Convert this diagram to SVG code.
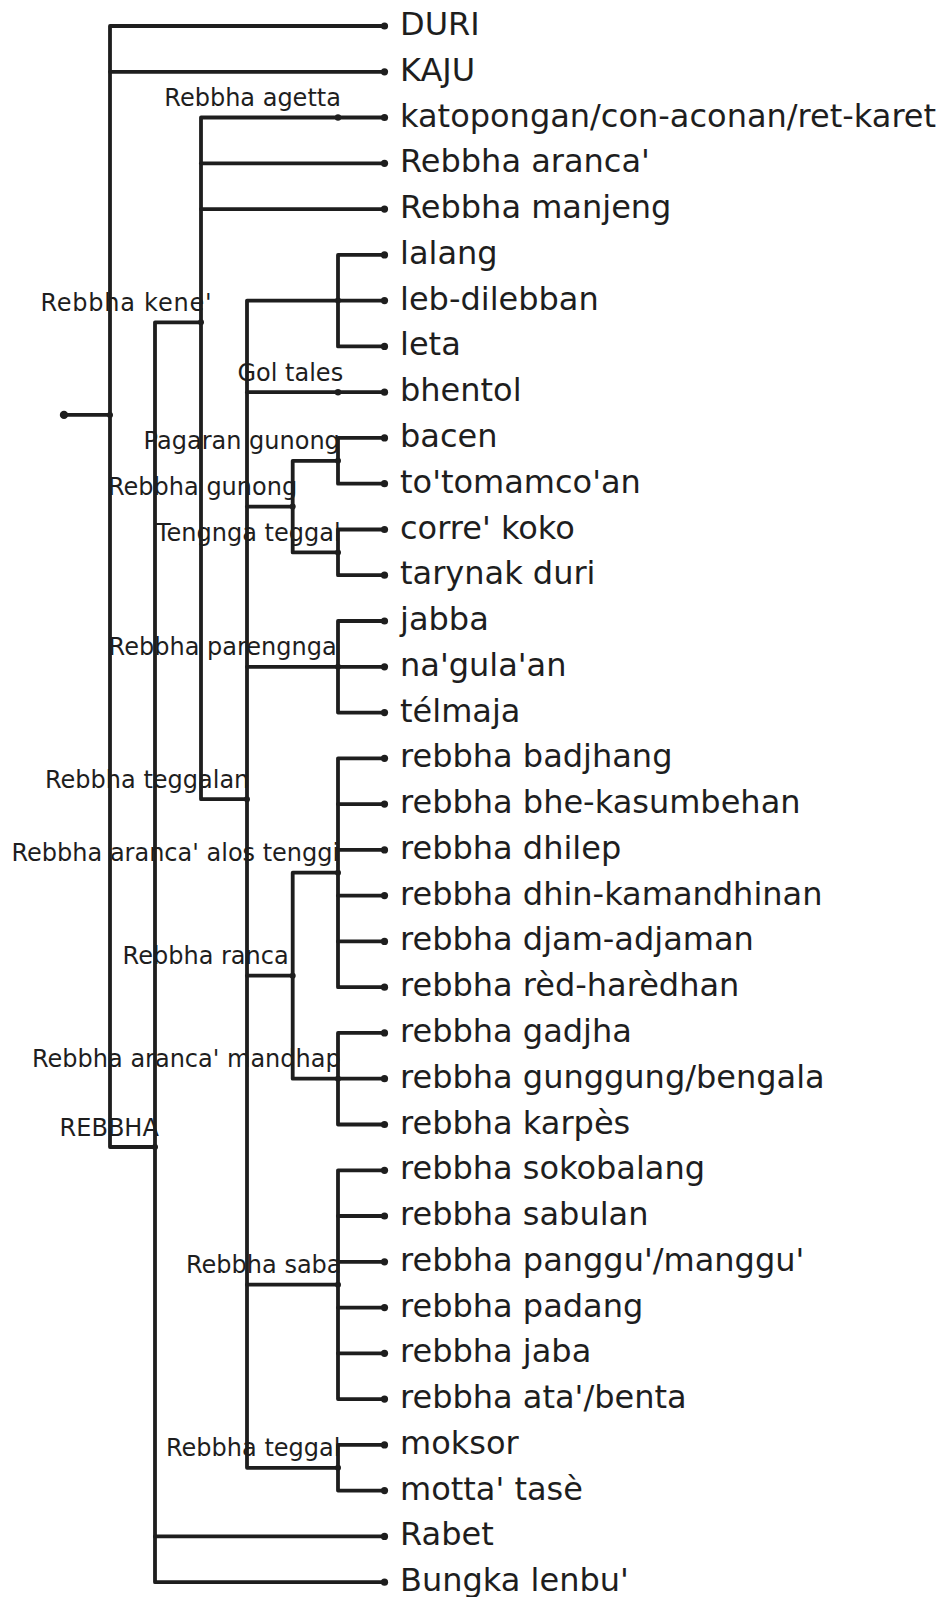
<svg xmlns="http://www.w3.org/2000/svg" width="944" height="1597" viewBox="0 0 944 1597">
<style>
.leaf{font-family:"DejaVu Sans",sans-serif;font-size:32px;fill:#1e1e1e}
.lbl{font-family:"DejaVu Sans",sans-serif;font-size:24px;fill:#1e1e1e}
.dot{fill:#1e1e1e}
#connectors path{fill:none;stroke:#1e1e1e;stroke-width:3.8;stroke-linecap:round;stroke-linejoin:round}
</style>
<rect width="944" height="1597" fill="#fff"/>
<g id="nodes">
<g id="n-root"><circle class="dot" cx="64" cy="414.9" r="4.2"/><circle class="dot" cx="110" cy="414.9" r="3"/></g>
<g id="n-REBBHA"><text class="lbl" x="59.6" y="1135.5">REBBHA</text><circle class="dot" cx="155" cy="1147" r="3"/></g>
<g id="n-kene"><text class="lbl" x="40.5" y="310.8" textLength="171" lengthAdjust="spacing">Rebbha kene'</text><circle class="dot" cx="201" cy="322.3" r="3"/></g>
<g id="n-agetta"><text class="lbl" x="164.3" y="106">Rebbha agetta</text><circle class="dot" cx="338" cy="117.5" r="3.2"/></g>
<g id="n-teggalan"><text class="lbl" x="45" y="787.7">Rebbha teggalan</text><circle class="dot" cx="247" cy="799.2" r="3"/></g>
<g id="n-g1"><circle class="dot" cx="338" cy="300.6" r="3"/></g>
<g id="n-gol"><text class="lbl" x="237.5" y="380.7">Gol tales</text><circle class="dot" cx="338" cy="392.2" r="3.2"/></g>
<g id="n-gunong"><text class="lbl" x="108" y="495.1">Rebbha gunong</text><circle class="dot" cx="292.7" cy="506.6" r="3"/></g>
<g id="n-pagaran"><text class="lbl" x="143.6" y="449.3">Pagaran gunong</text><circle class="dot" cx="338" cy="460.8" r="3"/></g>
<g id="n-tengnga"><text class="lbl" x="156" y="540.9">Tengnga teggal</text><circle class="dot" cx="338" cy="552.4" r="3"/></g>
<g id="n-parengnga"><text class="lbl" x="108.6" y="655.3">Rebbha parengnga</text><circle class="dot" cx="338" cy="666.8" r="3"/></g>
<g id="n-ranca"><text class="lbl" x="122.6" y="964.2">Rebbha ranca</text><circle class="dot" cx="292.7" cy="975.7" r="3"/></g>
<g id="n-alos"><text class="lbl" x="11.5" y="861.2">Rebbha aranca' alos tenggi</text><circle class="dot" cx="338" cy="872.7" r="3"/></g>
<g id="n-mandhap"><text class="lbl" x="32" y="1067.2">Rebbha aranca' mandhap</text><circle class="dot" cx="338" cy="1078.7" r="3"/></g>
<g id="n-saba"><text class="lbl" x="186" y="1273.2">Rebbha saba</text><circle class="dot" cx="338" cy="1284.7" r="3"/></g>
<g id="n-teggal"><text class="lbl" x="166" y="1456.3">Rebbha teggal</text><circle class="dot" cx="338" cy="1467.8" r="3"/></g>
<g id="leaf-0"><circle class="dot" cx="384.5" cy="26" r="3.6"/><text class="leaf" x="400" y="35">DURI</text></g>
<g id="leaf-1"><circle class="dot" cx="384.5" cy="71.8" r="3.6"/><text class="leaf" x="400" y="80.8">KAJU</text></g>
<g id="leaf-2"><circle class="dot" cx="384.5" cy="117.5" r="3.6"/><text class="leaf" x="400" y="126.5">katopongan/con-aconan/ret-karet</text></g>
<g id="leaf-3"><circle class="dot" cx="384.5" cy="163.3" r="3.6"/><text class="leaf" x="400" y="172.3">Rebbha aranca'</text></g>
<g id="leaf-4"><circle class="dot" cx="384.5" cy="209.1" r="3.6"/><text class="leaf" x="400" y="218.1">Rebbha manjeng</text></g>
<g id="leaf-5"><circle class="dot" cx="384.5" cy="254.9" r="3.6"/><text class="leaf" x="400" y="263.9">lalang</text></g>
<g id="leaf-6"><circle class="dot" cx="384.5" cy="300.6" r="3.6"/><text class="leaf" x="400" y="309.6">leb-dilebban</text></g>
<g id="leaf-7"><circle class="dot" cx="384.5" cy="346.4" r="3.6"/><text class="leaf" x="400" y="355.4">leta</text></g>
<g id="leaf-8"><circle class="dot" cx="384.5" cy="392.2" r="3.6"/><text class="leaf" x="400" y="401.2">bhentol</text></g>
<g id="leaf-9"><circle class="dot" cx="384.5" cy="437.9" r="3.6"/><text class="leaf" x="400" y="446.9">bacen</text></g>
<g id="leaf-10"><circle class="dot" cx="384.5" cy="483.7" r="3.6"/><text class="leaf" x="400" y="492.7">to'tomamco'an</text></g>
<g id="leaf-11"><circle class="dot" cx="384.5" cy="529.5" r="3.6"/><text class="leaf" x="400" y="538.5">corre' koko</text></g>
<g id="leaf-12"><circle class="dot" cx="384.5" cy="575.2" r="3.6"/><text class="leaf" x="400" y="584.2">tarynak duri</text></g>
<g id="leaf-13"><circle class="dot" cx="384.5" cy="621" r="3.6"/><text class="leaf" x="400" y="630">jabba</text></g>
<g id="leaf-14"><circle class="dot" cx="384.5" cy="666.8" r="3.6"/><text class="leaf" x="400" y="675.8">na'gula'an</text></g>
<g id="leaf-15"><circle class="dot" cx="384.5" cy="712.6" r="3.6"/><text class="leaf" x="400" y="721.6">télmaja</text></g>
<g id="leaf-16"><circle class="dot" cx="384.5" cy="758.3" r="3.6"/><text class="leaf" x="400" y="767.3">rebbha badjhang</text></g>
<g id="leaf-17"><circle class="dot" cx="384.5" cy="804.1" r="3.6"/><text class="leaf" x="400" y="813.1">rebbha bhe-kasumbehan</text></g>
<g id="leaf-18"><circle class="dot" cx="384.5" cy="849.9" r="3.6"/><text class="leaf" x="400" y="858.9">rebbha dhilep</text></g>
<g id="leaf-19"><circle class="dot" cx="384.5" cy="895.6" r="3.6"/><text class="leaf" x="400" y="904.6">rebbha dhin-kamandhinan</text></g>
<g id="leaf-20"><circle class="dot" cx="384.5" cy="941.4" r="3.6"/><text class="leaf" x="400" y="950.4">rebbha djam-adjaman</text></g>
<g id="leaf-21"><circle class="dot" cx="384.5" cy="987.2" r="3.6"/><text class="leaf" x="400" y="996.2">rebbha rèd-harèdhan</text></g>
<g id="leaf-22"><circle class="dot" cx="384.5" cy="1032.9" r="3.6"/><text class="leaf" x="400" y="1041.9">rebbha gadjha</text></g>
<g id="leaf-23"><circle class="dot" cx="384.5" cy="1078.7" r="3.6"/><text class="leaf" x="400" y="1087.7">rebbha gunggung/bengala</text></g>
<g id="leaf-24"><circle class="dot" cx="384.5" cy="1124.5" r="3.6"/><text class="leaf" x="400" y="1133.5">rebbha karpès</text></g>
<g id="leaf-25"><circle class="dot" cx="384.5" cy="1170.3" r="3.6"/><text class="leaf" x="400" y="1179.3">rebbha sokobalang</text></g>
<g id="leaf-26"><circle class="dot" cx="384.5" cy="1216" r="3.6"/><text class="leaf" x="400" y="1225">rebbha sabulan</text></g>
<g id="leaf-27"><circle class="dot" cx="384.5" cy="1261.8" r="3.6"/><text class="leaf" x="400" y="1270.8">rebbha panggu'/manggu'</text></g>
<g id="leaf-28"><circle class="dot" cx="384.5" cy="1307.6" r="3.6"/><text class="leaf" x="400" y="1316.6">rebbha padang</text></g>
<g id="leaf-29"><circle class="dot" cx="384.5" cy="1353.3" r="3.6"/><text class="leaf" x="400" y="1362.3">rebbha jaba</text></g>
<g id="leaf-30"><circle class="dot" cx="384.5" cy="1399.1" r="3.6"/><text class="leaf" x="400" y="1408.1">rebbha ata'/benta</text></g>
<g id="leaf-31"><circle class="dot" cx="384.5" cy="1444.9" r="3.6"/><text class="leaf" x="400" y="1453.9">moksor</text></g>
<g id="leaf-32"><circle class="dot" cx="384.5" cy="1490.6" r="3.6"/><text class="leaf" x="400" y="1499.6">motta' tasè</text></g>
<g id="leaf-33"><circle class="dot" cx="384.5" cy="1536.4" r="3.6"/><text class="leaf" x="400" y="1545.4">Rabet</text></g>
<g id="leaf-34"><circle class="dot" cx="384.5" cy="1582.2" r="3.6"/><text class="leaf" x="400" y="1591.2">Bungka lenbu'</text></g>
</g>
<g id="connectors">
<path d="M64,414.9H110"/>
<path d="M384.5,26H110V1147H155"/>
<path d="M110,71.8H384.5"/>
<path d="M201,322.3H155V1582.2H384.5"/>
<path d="M155,1536.4H384.5"/>
<path d="M384.5,117.5H201V799.2H247"/>
<path d="M201,163.3H384.5"/>
<path d="M201,209.1H384.5"/>
<path d="M338,300.6H247V1467.8H338"/>
<path d="M247,392.2H384.5"/>
<path d="M247,506.6H292.7"/>
<path d="M247,666.8H338"/>
<path d="M247,975.7H292.7"/>
<path d="M247,1284.7H338"/>
<path d="M384.5,254.9H338V346.4H384.5"/>
<path d="M338,300.6H384.5"/>
<path d="M338,460.8H292.7V552.4H338"/>
<path d="M384.5,437.9H338V483.7H384.5"/>
<path d="M384.5,529.5H338V575.2H384.5"/>
<path d="M384.5,621H338V712.6H384.5"/>
<path d="M338,666.8H384.5"/>
<path d="M338,872.7H292.7V1078.7H338"/>
<path d="M384.5,758.3H338V987.2H384.5"/>
<path d="M338,804.1H384.5M338,849.9H384.5M338,895.6H384.5M338,941.4H384.5"/>
<path d="M384.5,1032.9H338V1124.5H384.5"/>
<path d="M338,1078.7H384.5"/>
<path d="M384.5,1170.3H338V1399.1H384.5"/>
<path d="M338,1216H384.5M338,1261.8H384.5M338,1307.6H384.5M338,1353.3H384.5"/>
<path d="M384.5,1444.9H338V1490.6H384.5"/>
</g>
</svg>
